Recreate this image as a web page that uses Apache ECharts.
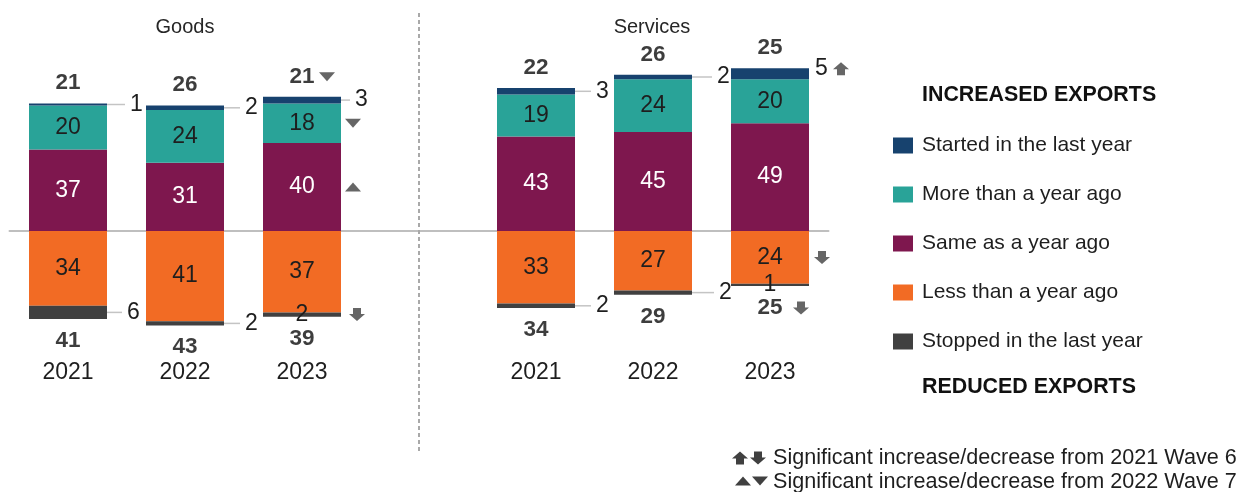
<!DOCTYPE html>
<html>
<head>
<meta charset="utf-8">
<script src="https://cdn.jsdelivr.net/npm/echarts@6/dist/echarts.min.js"></script>
<style>
  html, body { margin: 0; padding: 0; background: #ffffff; }
  #chart { width: 1239px; height: 492px; }
</style>
</head>
<body>
<div id="chart"></div>
<script>
// Exporting status by year: Goods (first three columns) and Services (last three)
const years = ['2021', '2022', '2023', '', '2021', '2022', '2023'];
const startedLastYear = [1, 2, 3, null, 3, 2, 5];
const moreThanYearAgo = [20, 24, 18, null, 19, 24, 20];
const sameAsYearAgo = [37, 31, 40, null, 43, 45, 49];
const lessThanYearAgo = [34, 41, 37, null, 33, 27, 24];
const stoppedLastYear = [6, 2, 2, null, 2, 2, 1];
const increasedTotals = [21, 26, 21, null, 22, 26, 25];
const reducedTotals = [41, 43, 39, null, 34, 29, 25];

// Significant changes: column, segment, direction, comparison wave
const significantChanges = [
  { cat: 2, seg: 'increasedTotal', dir: 'down', wave: 7 },
  { cat: 2, seg: 'more', dir: 'down', wave: 7 },
  { cat: 2, seg: 'same', dir: 'up', wave: 7 },
  { cat: 2, seg: 'stopped', dir: 'down', wave: 6 },
  { cat: 6, seg: 'started', dir: 'up', wave: 6 },
  { cat: 6, seg: 'less', dir: 'down', wave: 6 },
  { cat: 6, seg: 'reducedTotal', dir: 'down', wave: 6 }
];

const NAMES = {
  started: 'Started in the last year',
  more: 'More than a year ago',
  same: 'Same as a year ago',
  less: 'Less than a year ago',
  stopped: 'Stopped in the last year'
};
const COLORS = {
  started: '#17426E',
  more: '#29A398',
  same: '#7E174E',
  less: '#F26B24',
  stopped: '#404040'
};
const FONT = '"Liberation Sans", Arial, sans-serif';
const TEXT = '#1e1e1e';
const LEADER = '#c4c4c4';

// Length of the leader line for the thin outer segments (-1: label sits on the bar)
const startedLeader = [18, 16, 9, 0, 16, 20, 0];
const stoppedLeader = [15, 16, -1, 0, 16, 22, -1];
const startedLabelShift = [0, 0, 0, 0, 0, 0, -5];

// Where each significance arrow sits relative to its anchor point
const markerOffsets = {
  increasedTotal: [25, -20],
  more: [51, 0],
  same: [51, 0],
  stopped: [55, 0],
  started: [71, -5],
  less: [52, 0],
  reducedTotal: [31, 22]
};

const BLOCK_UP = 'path://M0,7 L8,0 L16,7 L12,7 L12,13 L4,13 L4,7 Z';
const BLOCK_DOWN = 'path://M0,6 L8,13 L16,6 L12,6 L12,0 L4,0 L4,6 Z';

function anchorValue(i, seg) {
  const s = sameAsYearAgo[i], m = moreThanYearAgo[i], st = startedLastYear[i];
  const l = lessThanYearAgo[i], sp = stoppedLastYear[i];
  switch (seg) {
    case 'same': return s / 2;
    case 'more': return s + m / 2;
    case 'started': return s + m + st / 2;
    case 'increasedTotal': return s + m + st;
    case 'less': return -l / 2;
    case 'stopped': return -(l + sp / 2);
    case 'reducedTotal': return -(l + sp);
  }
}

function outerSegmentData(values, leaders, sign, shifts) {
  return values.map((v, i) => {
    if (v == null) return null;
    const len = leaders[i];
    const item = { value: sign * v };
    if (len < 0) {
      item.label = { position: 'inside', formatter: String(v) };
    } else {
      item.label = {
        position: 'right',
        distance: 0,
        offset: [0, shifts ? shifts[i] : 0],
        formatter: (len > 0 ? '{ln|}' : '') + '{v|' + v + '}',
        rich: {
          ln: { width: len, height: 1.5, backgroundColor: LEADER, verticalAlign: 'middle' },
          v: { fontSize: 23, fontFamily: FONT, color: TEXT, padding: [0, 0, 0, len > 0 ? 5 : 6] }
        }
      };
    }
    return item;
  });
}

function barSeries(key, data, labelColor) {
  return {
    name: NAMES[key],
    type: 'bar',
    stack: 'exports',
    barWidth: 78,
    data: data,
    itemStyle: { color: COLORS[key] },
    label: {
      show: true,
      position: 'inside',
      fontSize: 23,
      fontFamily: FONT,
      color: labelColor
    },
    emphasis: { disabled: true }
  };
}

const sameSeries = barSeries('same', sameAsYearAgo, '#ffffff');
sameSeries.markLine = {
  silent: true,
  symbol: 'none',
  label: { show: false },
  lineStyle: { color: '#a9a9a9', width: 2, type: [4, 3] },
  data: [{ xAxis: 3 }]
};

const moreSeries = barSeries('more', moreThanYearAgo, TEXT);
const startedSeries = barSeries('started', outerSegmentData(startedLastYear, startedLeader, 1, startedLabelShift), TEXT);
const lessSeries = barSeries('less', lessThanYearAgo.map(v => v == null ? null : -v), TEXT);
lessSeries.label.formatter = p => Math.abs(p.value);
const stoppedSeries = barSeries('stopped', outerSegmentData(stoppedLastYear, stoppedLeader, -1), TEXT);

const totalLabelStyle = { show: true, fontSize: 22.5, fontWeight: 'bold', fontFamily: FONT, color: '#0d0d0d' };

const increasedTotalSeries = {
  type: 'scatter',
  symbolSize: 0,
  silent: true,
  z: 5,
  data: years.map((y, i) => increasedTotals[i] == null ? null : {
    value: [i, anchorValue(i, 'increasedTotal')],
    label: { formatter: String(increasedTotals[i]) }
  }),
  label: Object.assign({ position: 'top', distance: 9 }, totalLabelStyle)
};

const reducedTotalSeries = {
  type: 'scatter',
  symbolSize: 0,
  silent: true,
  z: 5,
  data: years.map((y, i) => reducedTotals[i] == null ? null : {
    value: [i, anchorValue(i, 'reducedTotal')],
    label: { formatter: String(reducedTotals[i]) }
  }),
  label: Object.assign({ position: 'bottom', distance: 10 }, totalLabelStyle)
};

const markerSeries = {
  type: 'scatter',
  silent: true,
  z: 6,
  itemStyle: { color: '#404040' },
  data: significantChanges.map(c => {
    const block = c.wave === 6;
    return {
      value: [c.cat, anchorValue(c.cat, c.seg)],
      symbol: block ? (c.dir === 'up' ? BLOCK_UP : BLOCK_DOWN) : 'triangle',
      symbolSize: block ? [16, 13] : [16, 9],
      symbolRotate: !block && c.dir === 'down' ? 180 : 0,
      symbolOffset: markerOffsets[c.seg]
    };
  })
};

// Key for the significance arrows, drawn as small polygons beside the text
function shapePoints(kind, x, y) {
  const shapes = {
    blockUp: [[0, 7], [8, 0], [16, 7], [12, 7], [12, 13], [4, 13], [4, 7]],
    blockDown: [[0, 6], [8, 13], [16, 6], [12, 6], [12, 0], [4, 0], [4, 6]],
    triUp: [[0, 9], [8, 0], [16, 9]],
    triDown: [[0, 0], [8, 9], [16, 0]]
  };
  return shapes[kind].map(p => [p[0] + x, p[1] + y]);
}
function keyShape(kind, x, y) {
  return { type: 'polygon', shape: { points: shapePoints(kind, x, y) }, style: { fill: '#404040' }, silent: true };
}
function keyText(text, x, y) {
  return {
    type: 'text', x: x, y: y, silent: true,
    style: { text: text, fontSize: 21.6, fontFamily: FONT, fill: TEXT, verticalAlign: 'middle', align: 'left' }
  };
}

const option = {
  animation: false,
  backgroundColor: '#ffffff',
  textStyle: { fontFamily: FONT },
  title: [
    { text: 'Goods', left: 185, top: 17, textAlign: 'center', padding: 0,
      textStyle: { fontSize: 20, fontWeight: 'normal', color: '#262626', fontFamily: FONT } },
    { text: 'Services', left: 652, top: 17, textAlign: 'center', padding: 0,
      textStyle: { fontSize: 20, fontWeight: 'normal', color: '#262626', fontFamily: FONT } },
    { text: 'INCREASED EXPORTS', left: 922, top: 85, padding: 0,
      textStyle: { fontSize: 21.4, fontWeight: 'bold', color: '#111111', fontFamily: FONT } },
    { text: 'REDUCED EXPORTS', left: 922, top: 377, padding: 0,
      textStyle: { fontSize: 21.4, fontWeight: 'bold', color: '#111111', fontFamily: FONT } }
  ],
  legend: {
    orient: 'vertical',
    left: 893,
    top: 135,
    padding: 0,
    itemWidth: 20,
    itemHeight: 16,
    itemGap: 28,
    icon: 'rect',
    selectedMode: false,
    data: [NAMES.started, NAMES.more, NAMES.same, NAMES.less, NAMES.stopped],
    textStyle: { fontSize: 21, lineHeight: 20, color: TEXT, fontFamily: FONT, padding: [0, 0, 0, 4] }
  },
  grid: { left: 9.5, right: 410.5, top: 11, bottom: 41, containLabel: false, outerBoundsMode: 'none' },
  xAxis: {
    type: 'category',
    data: years,
    axisLine: { onZero: true, lineStyle: { color: '#bfbfbf', width: 2 } },
    axisTick: { show: false },
    axisLabel: { margin: -90, fontSize: 23, color: TEXT, fontFamily: FONT }
  },
  yAxis: { type: 'value', min: -100, max: 100, show: false, splitLine: { show: false } },
  series: [sameSeries, moreSeries, startedSeries, lessSeries, stoppedSeries,
           increasedTotalSeries, reducedTotalSeries, markerSeries],
  graphic: [
    keyShape('blockUp', 732, 451.5),
    keyShape('blockDown', 750, 451.5),
    keyText('Significant increase/decrease from 2021 Wave 6', 773, 458),
    keyShape('triUp', 735, 476.5),
    keyShape('triDown', 752, 476.5),
    keyText('Significant increase/decrease from 2022 Wave 7', 773, 482)
  ]
};

const chart = echarts.init(document.getElementById('chart'), null, { renderer: 'canvas' });
chart.setOption(option);
</script>
</body>
</html>
